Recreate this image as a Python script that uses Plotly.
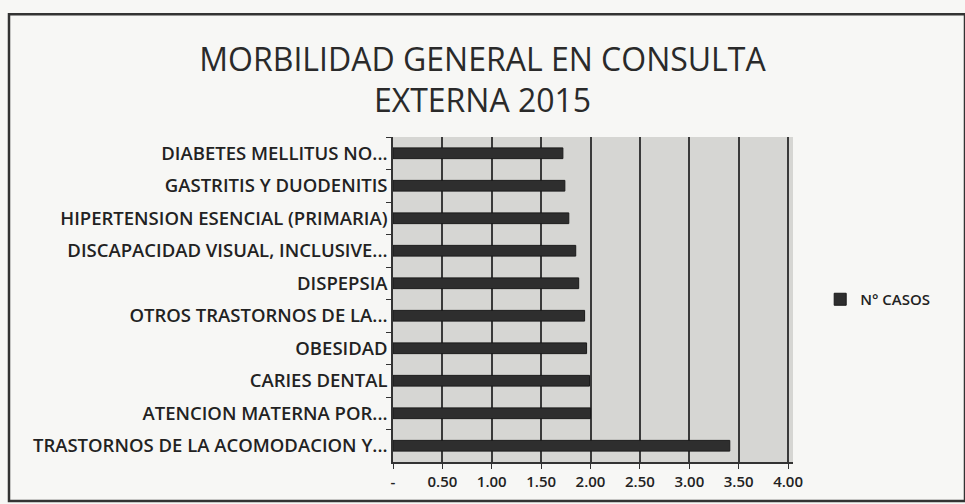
import plotly.graph_objects as go

# Datos (de arriba hacia abajo)
categorias = [
    "DIABETES MELLITUS NO...",
    "GASTRITIS Y DUODENITIS",
    "HIPERTENSION ESENCIAL (PRIMARIA)",
    "DISCAPACIDAD VISUAL, INCLUSIVE...",
    "DISPEPSIA",
    "OTROS TRASTORNOS DE LA...",
    "OBESIDAD",
    "CARIES DENTAL",
    "ATENCION MATERNA POR...",
    "TRASTORNOS DE LA ACOMODACION Y...",
]
casos = [1.72, 1.74, 1.78, 1.85, 1.88, 1.94, 1.96, 1.99, 2.00, 3.41]

tick_vals = [0, 0.5, 1.0, 1.5, 2.0, 2.5, 3.0, 3.5, 4.0]
tick_text = ["-", "0.50", "1.00", "1.50", "2.00", "2.50", "3.00", "3.50", "4.00"]

fig = go.Figure()

fig.add_trace(go.Bar(
    x=casos,
    y=categorias,
    orientation="h",
    name="N° CASOS",
    marker=dict(color="#2e2e2e", line=dict(color="#1a1a1a", width=1)),
))

fig.update_layout(
    width=965,
    height=504,
    margin=dict(l=393, r=172, t=137, b=42),
    paper_bgcolor="#f7f7f5",
    plot_bgcolor="#d6d6d3",
    font=dict(family="Open Sans", color="#222222"),
    title=dict(
        text="MORBILIDAD GENERAL EN CONSULTA<br>EXTERNA 2015",
        x=0.5, xanchor="center", xref="container",
        y=0.86, yanchor="top",
        font=dict(family="Open Sans", size=32, color="#2a2a2a"),
    ),
    bargap=0.67,
    showlegend=True,
    legend=dict(
        x=1.068, y=0.5, xanchor="left", yanchor="middle",
        bgcolor="rgba(0,0,0,0)",
        itemwidth=30,
        font=dict(size=15, color="#222222", weight=600),
    ),
    xaxis=dict(
        range=[0, 4.05],
        tickvals=tick_vals,
        ticktext=tick_text,
        ticksuffix="  ",
        showgrid=True,
        gridcolor="#3a3a3a",
        gridwidth=1.5,
        showline=True,
        linecolor="#333333",
        linewidth=1.5,
        ticks="outside",
        ticklen=5,
        tickcolor="#333333",
        tickfont=dict(size=15, color="#222222", weight=600),
        zeroline=False,
    ),
    yaxis=dict(
        autorange="reversed",
        showline=True,
        linecolor="#333333",
        linewidth=1.5,
        ticks="outside",
        tickson="boundaries",
        ticklen=5,
        tickcolor="#333333",
        tickfont=dict(size=18.5, color="#222222", weight=600),
    ),
    shapes=[
        dict(
            type="rect", xref="paper", yref="paper",
            x0=-0.96, x1=1.43, y0=-0.12, y1=1.378,
            line=dict(color="#333333", width=2.5),
            fillcolor="rgba(0,0,0,0)", layer="below",
        )
    ],
)

fig.write_html(
    "out.html",
    config={"displayModeBar": False},
    post_script="document.body.style.margin='0';",
)
